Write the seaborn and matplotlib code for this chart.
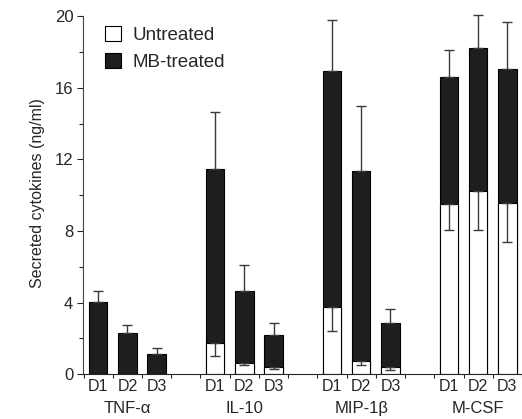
import matplotlib
matplotlib.use("Agg")
import matplotlib.pyplot as plt
from matplotlib.patches import Patch
import numpy as np
import seaborn as sns

# values (ng/ml)
cytokines = ["TNF-α", "IL-10", "MIP-1β", "M-CSF"]
donors = ["D1", "D2", "D3"]
mb_treated = [4.05, 2.28, 1.14, 11.44, 4.67, 2.2, 16.92, 11.35, 2.88, 16.58, 18.24, 17.05]
mb_err_top = [4.65, 2.77, 1.44, 14.66, 6.1, 2.84, 19.8, 14.99, 3.66, 18.13, 20.04, 19.67]
untreated = [0.0, 0.0, 0.0, 1.72, 0.65, 0.39, 3.74, 0.75, 0.41, 9.48, 10.21, 9.57]
untr_err_low = [0.0, 0.0, 0.0, 1.0, 0.54, 0.3, 2.41, 0.54, 0.26, 8.08, 8.08, 7.39]

sns.set_style("ticks")
plt.rcParams["font.family"] = ["Liberation Sans", "DejaVu Sans"]

# bar slots: three donors per cytokine, one empty slot between groups
pos = np.array([g * 4 + d for g in range(len(cytokines)) for d in range(len(donors))], dtype=float)

fig = plt.figure(figsize=(5.22, 4.19), dpi=100)
ax = fig.add_axes([0.159, 0.107, 0.841, 0.863])

sns.barplot(x=pos, y=mb_treated, native_scale=True, width=0.63, color="#1e1e1e",
            edgecolor="black", linewidth=0.8, saturation=1, ax=ax)
sns.barplot(x=pos, y=untreated, native_scale=True, width=0.63, color="white",
            edgecolor="black", linewidth=0.8, saturation=1, ax=ax)

mb = np.array(mb_treated)
up = np.array(mb_err_top) - mb
ax.errorbar(pos, mb, yerr=[np.zeros_like(up), up], fmt="none", ecolor="#3a3a3a",
            elinewidth=1, capsize=3.3, capthick=1, zorder=3)

un = np.array(untreated)
lo = un - np.array(untr_err_low)
m = un > 0
ax.errorbar(pos[m], un[m], yerr=[lo[m], np.zeros(m.sum())], fmt="none", ecolor="#3a3a3a",
            elinewidth=1, capsize=3.3, capthick=1, zorder=3)

ax.set_xlim(-0.52, 14.45)
ax.set_ylim(0, 20.2)
ax.set_yticks([0, 4, 8, 12, 16, 20])
ax.set_yticks([2, 6, 10, 14, 18], minor=True)
ax.set_xticks(np.arange(-0.5, 14.6, 1.0))
ax.set_xticklabels([])
ax.tick_params(axis="y", which="major", labelsize=12, length=4, width=0.8, pad=3)
ax.tick_params(axis="y", which="minor", length=3, width=0.8)
ax.tick_params(axis="x", length=3, width=0.8)
ax.set_ylabel("Secreted cytokines (ng/ml)", fontsize=11.5, labelpad=7)
ax.set_xlabel("")

sns.despine(ax=ax)
ax.spines["left"].set_bounds(0, 20)
ax.spines["left"].set_color("#444444")
ax.spines["left"].set_linewidth(0.8)
ax.spines["bottom"].set_linewidth(0.8)

trans = ax.get_xaxis_transform()
for i, p in enumerate(pos):
    ax.text(p, -0.033, donors[i % 3], transform=trans, ha="center", va="center", fontsize=11.5)
for g, name in enumerate(cytokines):
    ax.text(g * 4 + 1, -0.095, name, transform=trans, ha="center", va="center", fontsize=12)

handles = [Patch(facecolor="white", edgecolor="black", linewidth=0.8, label="Untreated"),
           Patch(facecolor="#1e1e1e", edgecolor="black", linewidth=0.8, label="MB-treated")]
ax.legend(handles=handles, loc="upper left", bbox_to_anchor=(0.012, 1.01), frameon=False,
          fontsize=13.5, handlelength=0.85, handleheight=0.85, handletextpad=0.6,
          labelspacing=0.5)

fig.savefig("out.png", dpi=100)
